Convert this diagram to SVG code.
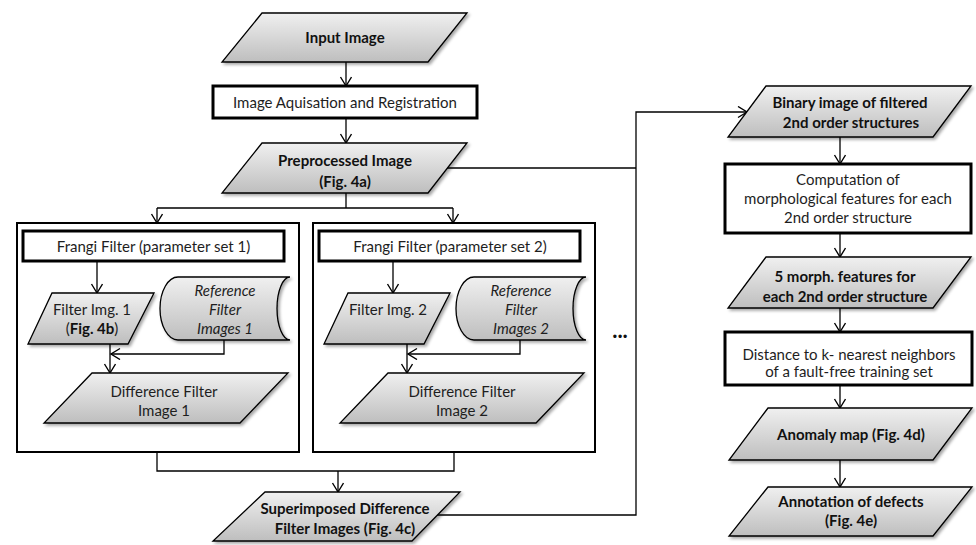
<svg xmlns="http://www.w3.org/2000/svg" width="976" height="545" viewBox="0 0 976 545">
<defs>
<linearGradient id="g" x1="0" y1="0" x2="0" y2="1">
<stop offset="0" stop-color="#f0f0f0"/>
<stop offset="1" stop-color="#bebebe"/>
</linearGradient>
<filter id="sh" x="-10%" y="-10%" width="130%" height="140%">
<feDropShadow dx="2" dy="2" stdDeviation="1.5" flood-color="#000" flood-opacity="0.35"/>
</filter>
<marker id="ar" markerUnits="userSpaceOnUse" markerWidth="16" markerHeight="16" refX="10" refY="6" orient="auto">
<path d="M1,0.5 L10,6 L1,11.5" fill="none" stroke="#000" stroke-width="1.4"/>
</marker>
</defs>
<style>
.io{fill:url(#g);stroke:#000;stroke-width:1.3;filter:url(#sh)}
.pr{fill:#fff;stroke:#000;stroke-width:3}
.ct{fill:none;stroke:#000;stroke-width:2}
.c{fill:none;stroke:#000;stroke-width:1.3}
.a{marker-end:url(#ar)}
text{font-family:Lato,"Liberation Sans",sans-serif;font-size:15px;fill:#1e1e1e;text-anchor:middle}
.b{font-weight:bold;fill:#111}
.i{font-style:italic}
</style>
<rect width="976" height="545" fill="#fff"/>

<g id="container1"><rect class="ct" x="17" y="223" width="282" height="229"/></g>
<g id="container2"><rect class="ct" x="313" y="223" width="282" height="229"/></g>

<g id="connectors">
<path class="c a" d="M346,62 V86"/>
<path class="c a" d="M346,118 V143"/>
<path class="c" d="M346,193 V208 M157,208 H453"/>
<path class="c a" d="M157,208 V223"/>
<path class="c a" d="M453,208 V223"/>
<path class="c" d="M447,168 H636"/>
<path class="c a" d="M437,515 H636 V112 H747"/>
<path class="c a" d="M97,261 V293"/>
<path class="c a" d="M110,344 V373"/>
<path class="c a" d="M224,340 V354 H111"/>
<path class="c a" d="M393,261 V293"/>
<path class="c a" d="M407,344 V373"/>
<path class="c a" d="M520,340 V354 H408"/>
<path class="c" d="M157,452 V471 H454 V452"/>
<path class="c a" d="M338,471 V492"/>
<path class="c a" d="M840,137 V164"/>
<path class="c a" d="M840,233 V257"/>
<path class="c a" d="M840,308 V332"/>
<path class="c a" d="M840,385 V408"/>
<path class="c a" d="M840,460 V487"/>
</g>

<g id="input">
<polygon class="io" points="262,13 467,13 428,62 222,62"/>
<text class="b" x="345" y="43">Input Image</text>
</g>
<g id="acquisition">
<rect class="pr" x="213" y="86" width="264" height="32"/>
<text x="345" y="108">Image Aquisation and Registration</text>
</g>
<g id="preprocessed">
<polygon class="io" points="262,143 467,143 428,193 222,193"/>
<text class="b" x="345" y="166">Preprocessed Image</text>
<text class="b" x="345" y="187">(Fig. 4a)</text>
</g>

<g id="frangi1">
<rect class="pr" x="23" y="231" width="261" height="30"/>
<text x="153.5" y="252">Frangi Filter (parameter set 1)</text>
</g>
<g id="filterimg1">
<polygon class="io" points="52,293 154,293 128,344 28,344"/>
<text x="92" y="315">Filter Img. 1</text>
<text x="92" y="334">(<tspan class="b">Fig. 4b</tspan>)</text>
</g>
<g id="reference1">
<path class="io" d="M178,277 H290 A13,31.5 0 0 0 290,340 H178 A18,31.5 0 0 1 178,277 Z"/>
<text class="i" x="225" y="296">Reference</text>
<text class="i" x="225" y="315">Filter</text>
<text class="i" x="225" y="334">Images 1</text>
</g>
<g id="difference1">
<polygon class="io" points="92,373 288,373 240,423 44,423"/>
<text x="164" y="397">Difference Filter</text>
<text x="164" y="416">Image 1</text>
</g>

<g id="frangi2">
<rect class="pr" x="319" y="231" width="261" height="30"/>
<text x="450" y="252">Frangi Filter (parameter set 2)</text>
</g>
<g id="filterimg2">
<polygon class="io" points="348,293 450,293 424,344 324,344"/>
<text x="388" y="315">Filter Img. 2</text>
</g>
<g id="reference2">
<path class="io" d="M474,277 H586 A13,31.5 0 0 0 586,340 H474 A18,31.5 0 0 1 474,277 Z"/>
<text class="i" x="521" y="296">Reference</text>
<text class="i" x="521" y="315">Filter</text>
<text class="i" x="521" y="334">Images 2</text>
</g>
<g id="difference2">
<polygon class="io" points="388,373 584,373 536,423 340,423"/>
<text x="462" y="397">Difference Filter</text>
<text x="462" y="416">Image 2</text>
</g>

<g id="ellipsis"><text class="b" x="620" y="338" style="font-size:22px">...</text></g>

<g id="superimposed">
<polygon class="io" points="265,492 460,492 412,541 213,541"/>
<text class="b" x="345" y="514">Superimposed Difference</text>
<text class="b" x="345" y="534">Filter Images (Fig. 4c)</text>
</g>

<g id="binary">
<polygon class="io" points="766,86 971,86 933,137 728,137"/>
<text class="b" x="850" y="108">Binary image of filtered</text>
<text class="b" x="851" y="128">2nd order structures</text>
</g>
<g id="computation">
<rect class="pr" x="725" y="164" width="246" height="69"/>
<text x="848" y="185">Computation of</text>
<text x="848" y="204">morphological features for each</text>
<text x="848" y="223">2nd order structure</text>
</g>
<g id="morph">
<polygon class="io" points="766,257 971,257 933,308 728,308"/>
<text class="b" x="845" y="282">5 morph. features for</text>
<text class="b" x="845" y="302">each 2nd order structure</text>
</g>
<g id="distance">
<rect class="pr" x="725" y="332" width="247" height="53"/>
<text x="849" y="360">Distance to k- nearest neighbors</text>
<text x="849" y="377">of a fault-free training set</text>
</g>
<g id="anomaly">
<polygon class="io" points="768,408 972,408 933,460 729,460"/>
<text class="b" x="851" y="440">Anomaly map (Fig. 4d)</text>
</g>
<g id="annotation">
<polygon class="io" points="768,487 972,487 933,536 729,536"/>
<text class="b" x="851" y="507">Annotation of defects</text>
<text class="b" x="851" y="526">(Fig. 4e)</text>
</g>
</svg>
